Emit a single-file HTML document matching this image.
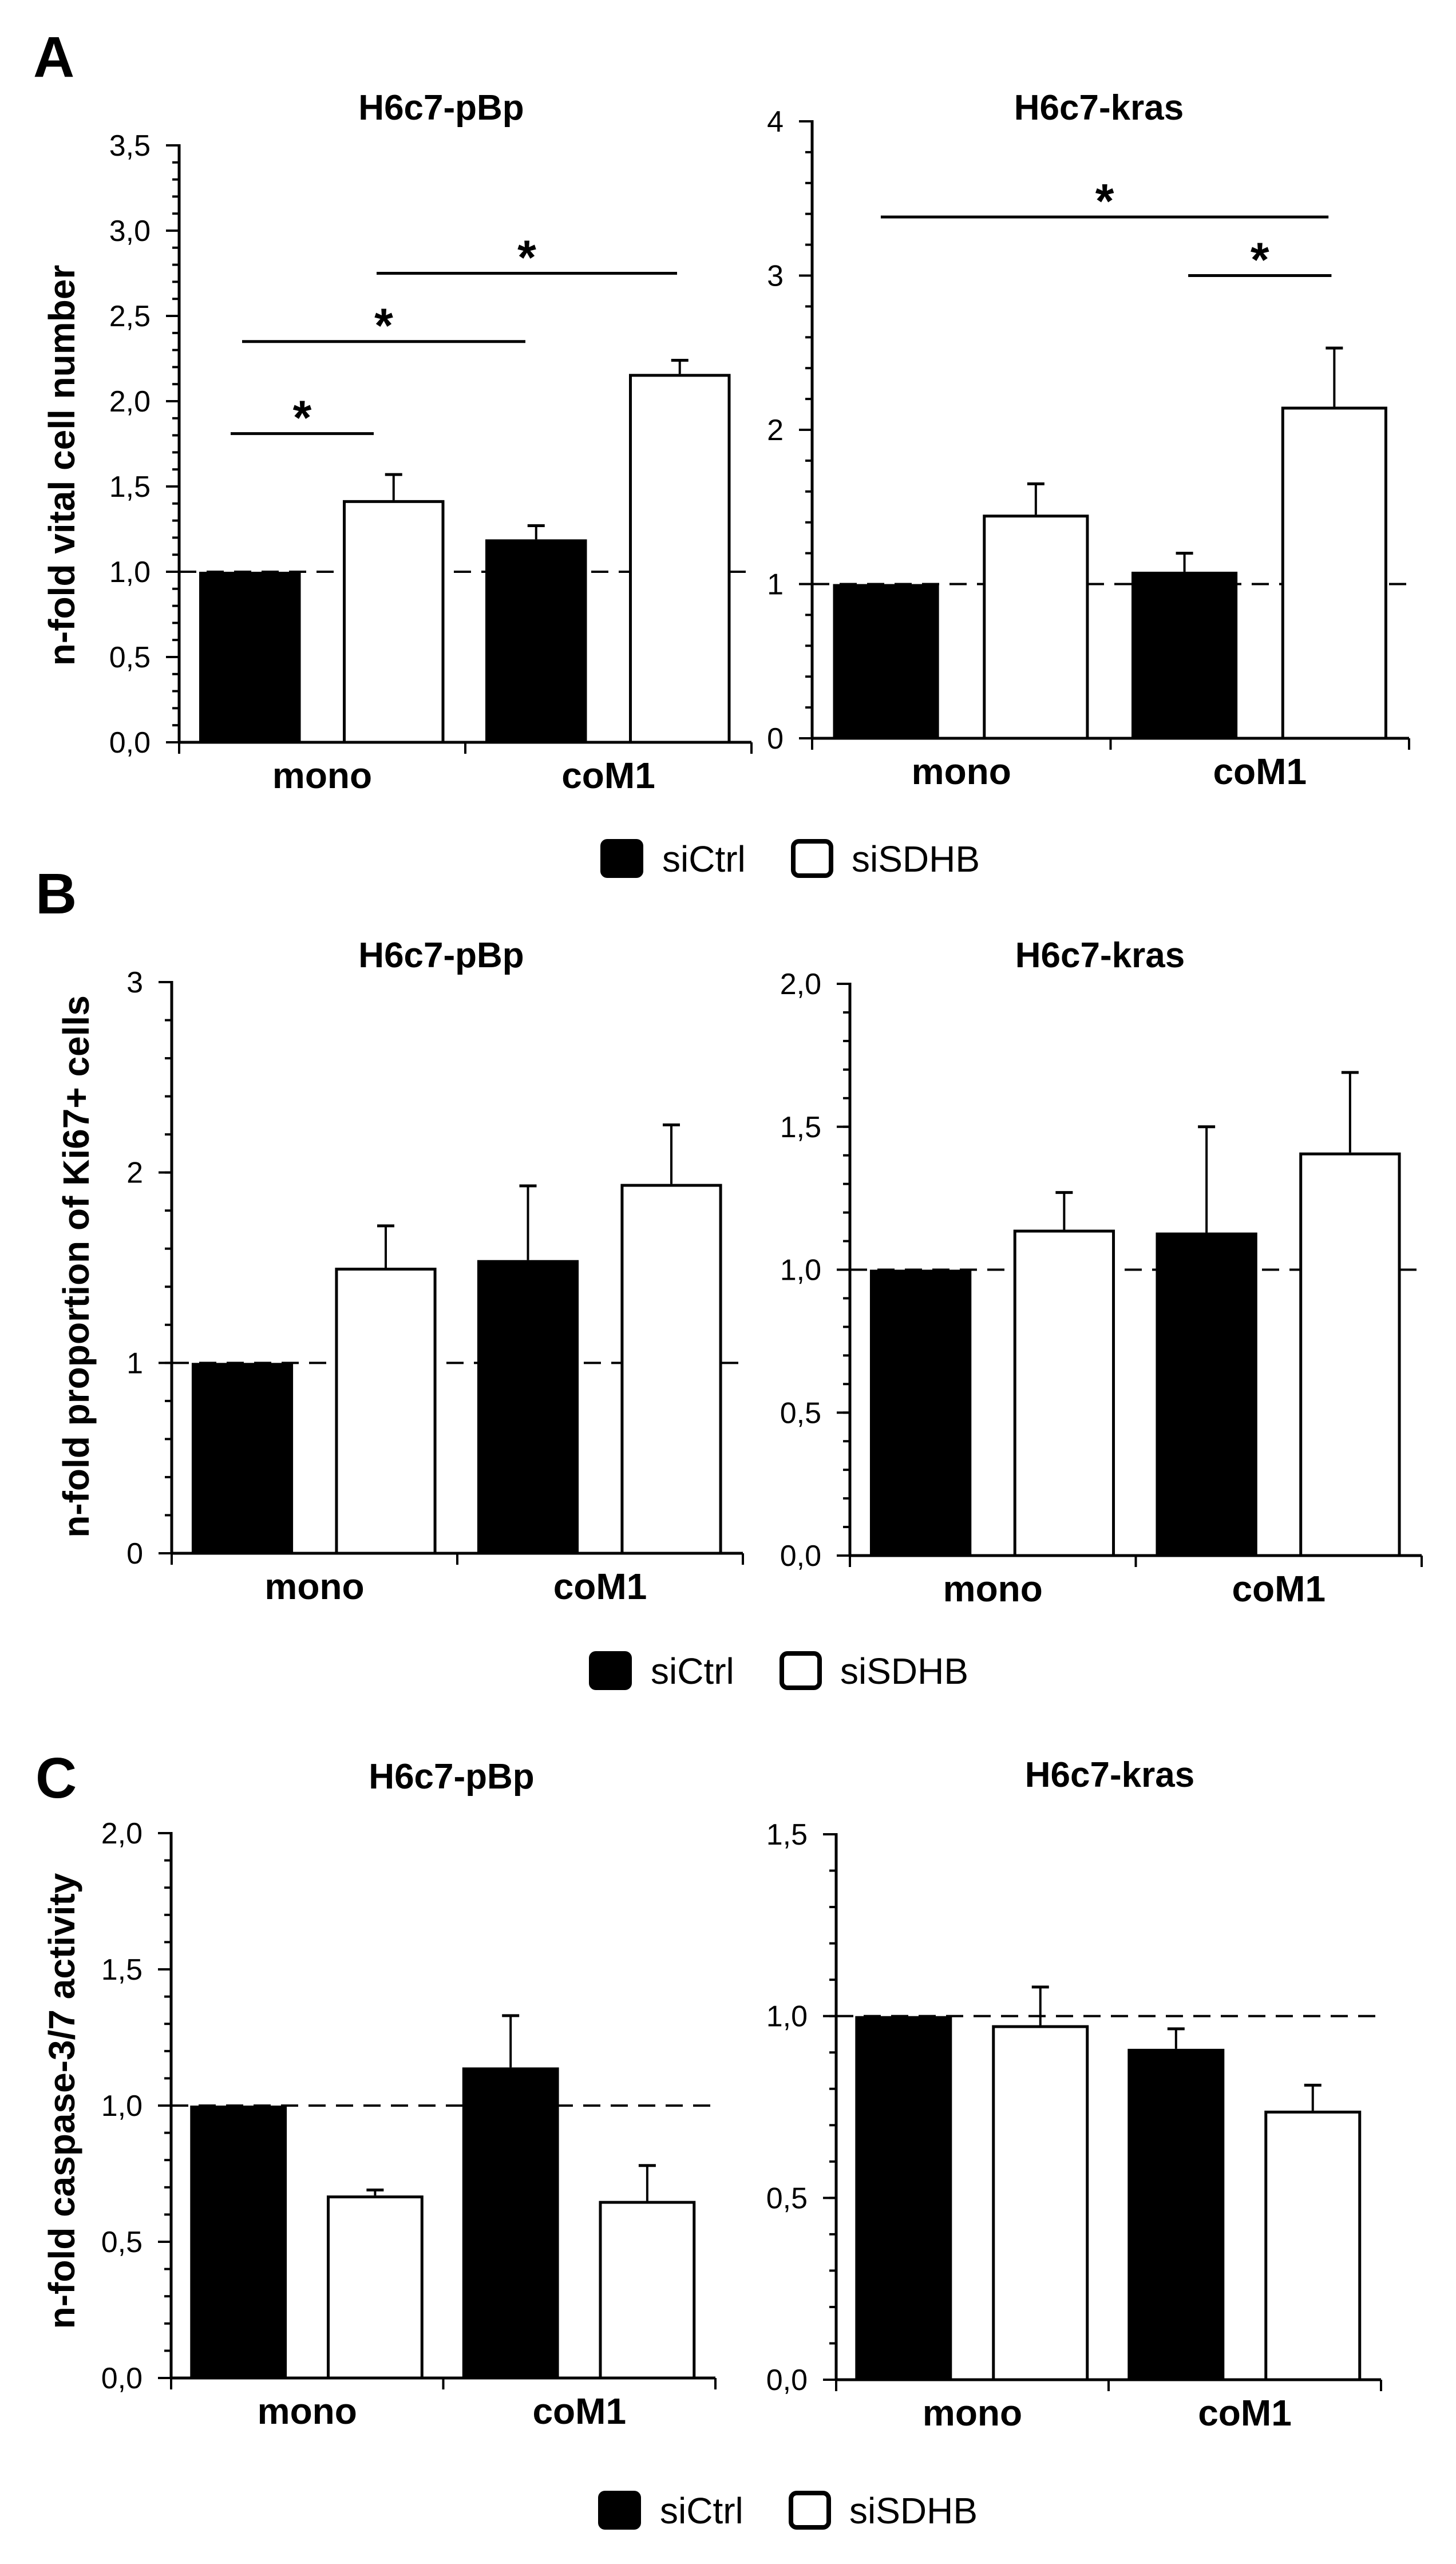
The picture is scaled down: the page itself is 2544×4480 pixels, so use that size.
<!DOCTYPE html>
<html>
<head>
<meta charset="utf-8">
<style>
html,body{margin:0;padding:0;background:#fff;}
svg{display:block;}
text{font-family:"Liberation Sans",Arial,sans-serif;fill:#000;}
</style>
</head>
<body>
<svg id="fig" xmlns="http://www.w3.org/2000/svg" width="2544" height="4480" viewBox="0 0 2544 4480">
<rect x="0" y="0" width="2544" height="4480" fill="#fff"/>
<text x="58" y="134" font-size="100" font-weight="bold">A</text>
<text x="62" y="1596" font-size="100" font-weight="bold">B</text>
<text x="62" y="3141" font-size="100" font-weight="bold">C</text>
</svg>
<script>
// ---- data ----
const categories = ['mono', 'coM1'];
const seriesNames = ['siCtrl', 'siSDHB'];

const aLeftCtrl = [1.0, 1.19];
const aLeftCtrlErr = [null, 1.27];
const aLeftSdhb = [1.42, 2.16];
const aLeftSdhbErr = [1.57, 2.24];
const aLeftTicks = ['0,0','0,5','1,0','1,5','2,0','2,5','3,0','3,5'];
const aLeftSigFrom = [0.18, 0.22, 0.69];   // in category units (0..2)
const aLeftSigTo = [0.68, 1.21, 1.74];
const aLeftSigY = [1.81, 2.35, 2.75];

const aRightCtrl = [1.0, 1.08];
const aRightCtrlErr = [null, 1.2];
const aRightSdhb = [1.45, 2.15];
const aRightSdhbErr = [1.65, 2.53];
const aRightTicks = ['0','1','2','3','4'];
const aRightSigFrom = [0.23, 1.26];
const aRightSigTo = [1.73, 1.74];
const aRightSigY = [3.38, 3.0];

const bLeftCtrl = [1.0, 1.54];
const bLeftCtrlErr = [null, 1.93];
const bLeftSdhb = [1.5, 1.94];
const bLeftSdhbErr = [1.72, 2.25];
const bLeftTicks = ['0','1','2','3'];

const bRightCtrl = [1.0, 1.13];
const bRightCtrlErr = [null, 1.5];
const bRightSdhb = [1.14, 1.41];
const bRightSdhbErr = [1.27, 1.69];
const bRightTicks = ['0,0','0,5','1,0','1,5','2,0'];

const cLeftCtrl = [1.0, 1.14];
const cLeftCtrlErr = [null, 1.33];
const cLeftSdhb = [0.67, 0.65];
const cLeftSdhbErr = [0.69, 0.78];
const cLeftTicks = ['0,0','0,5','1,0','1,5','2,0'];

const cRightCtrl = [1.0, 0.91];
const cRightCtrlErr = [null, 0.965];
const cRightSdhb = [0.975, 0.74];
const cRightSdhbErr = [1.08, 0.81];
const cRightTicks = ['0,0','0,5','1,0','1,5'];

// ---- drawing ----
const NS = 'http://www.w3.org/2000/svg';
const svg = document.getElementById('fig');
function mk(tag, attrs, parent) {
  const e = document.createElementNS(NS, tag);
  for (const k in attrs) e.setAttribute(k, attrs[k]);
  (parent || svg).appendChild(e);
  return e;
}

function drawChart(id, g, ctrl, ctrlErr, sdhb, sdhbErr, ticks, sig) {
  const grp = mk('g', {});
  
  
  const ymax = g.major * (ticks.length - 1);
  const y = v => g.y0 - v / ymax * (g.y0 - g.yTop);
  const gw = (g.xEnd - g.ax) / categories.length;
  const xc = c => g.ax + c * gw; // category-unit to px

  // title
  const t = mk('text', {x: g.tx, y: g.ty, 'font-size': 62, 'font-weight': 'bold', 'text-anchor': 'middle'}, grp);
  t.textContent = g.title;
  
  

  // minor ticks
  const nMinor = Math.round(ymax / g.minor);
  for (let i = 0; i <= nMinor; i++) {
    const yy = y(i * g.minor);
    const mt = mk('line', {x1: g.ax - 12, x2: g.ax, y1: yy, y2: yy, stroke: '#000', 'stroke-width': 4}, grp);
    
    
  }
  // major ticks + labels
  ticks.forEach((lab, i) => {
    const yy = y(i * g.major);
    const tk = mk('line', {x1: g.ax - 23, x2: g.ax, y1: yy, y2: yy, stroke: '#000', 'stroke-width': 4}, grp);
    
    
    const tl = mk('text', {x: g.ax - 50, y: yy + 18, 'font-size': 52, 'text-anchor': 'end'}, grp);
    tl.textContent = lab;
    
    
  });

  // reference dashed line at 1
  const ref = mk('line', {x1: g.ax, x2: g.xEnd, y1: y(1), y2: y(1), stroke: '#000', 'stroke-width': 4, 'stroke-dasharray': '30 18'}, grp);
  
  

  // bars
  const bw = 0.355 * gw;
  function bar(val, err, ci, series) {
    const bx = xc(ci) + (series === 0 ? 0.07 : 0.572) * gw;
    const top = y(val);
    if (err !== null && err !== undefined) {
      const cx = bx + bw / 2;
      const eb = mk('line', {x1: cx, x2: cx, y1: top, y2: y(err), stroke: '#000', 'stroke-width': 4}, grp);
      
      
      const ec = mk('line', {x1: cx - 15, x2: cx + 15, y1: y(err), y2: y(err), stroke: '#000', 'stroke-width': 5}, grp);
      
      
    }
    let r;
    if (series === 0) {
      r = mk('rect', {x: bx, y: top, width: bw, height: g.y0 - top, fill: '#000'}, grp);
    } else {
      r = mk('rect', {x: bx + 2.5, y: top + 2.5, width: bw - 5, height: g.y0 - top - 2.5, fill: '#fff', stroke: '#000', 'stroke-width': 5}, grp);
    }
    
    
  }
  categories.forEach((c, ci) => {
    bar(ctrl[ci], ctrlErr[ci], ci, 0);
    bar(sdhb[ci], sdhbErr[ci], ci, 1);
  });

  // axes
  const ya = mk('line', {x1: g.ax, x2: g.ax, y1: g.yTop - 2, y2: g.y0 + 2, stroke: '#000', 'stroke-width': 5}, grp);
  
  
  const xa = mk('line', {x1: g.ax - 2, x2: g.xEnd, y1: g.y0, y2: g.y0, stroke: '#000', 'stroke-width': 5}, grp);
  
  
  for (let i = 0; i <= categories.length; i++) {
    const xt = mk('line', {x1: xc(i), x2: xc(i), y1: g.y0, y2: g.y0 + 20, stroke: '#000', 'stroke-width': 4}, grp);
    
    
  }
  categories.forEach((c, ci) => {
    const xl = mk('text', {x: xc(ci + 0.5), y: g.y0 + 80, 'font-size': 64, 'font-weight': 'bold', 'text-anchor': 'middle'}, grp);
    xl.textContent = c;
    
    
  });

  // y title
  if (g.ytitle) {
    const yt = mk('text', {x: 0, y: 0, 'font-size': 64, 'font-weight': 'bold', 'text-anchor': 'middle', 'dominant-baseline': 'central',
      transform: 'translate(' + g.ytx + ',' + g.yty + ') rotate(-90)'}, grp);
    yt.textContent = g.ytitle;
    
    
  }

  // significance
  if (sig) {
    sig.from.forEach((f, i) => {
      const yy = y(sig.y[i]);
      const sl = mk('line', {x1: xc(f), x2: xc(sig.to[i]), y1: yy, y2: yy, stroke: '#000', 'stroke-width': 5}, grp);
      
      
      const st = mk('text', {x: (xc(f) + xc(sig.to[i])) / 2, y: yy - 45 + 46, 'font-size': 84, 'font-weight': 'bold', 'text-anchor': 'middle'}, grp);
      st.textContent = '*';
      
      
    });
  }
}

function drawLegend(id, cy, shift) {
  const grp = mk('g', {});
  
  
  const b1 = mk('rect', {x: 1049 + shift, y: cy - 34, width: 75, height: 68, rx: 12, fill: '#000'}, grp);
  
  
  const t1 = mk('text', {x: 1157 + shift, y: cy + 23, 'font-size': 64}, grp);
  t1.textContent = seriesNames[0];
  
  
  const b2 = mk('rect', {x: 1386 + shift, y: cy - 30, width: 66, height: 60, rx: 10, fill: '#fff', stroke: '#000', 'stroke-width': 8}, grp);
  
  
  const t2 = mk('text', {x: 1488 + shift, y: cy + 23, 'font-size': 64}, grp);
  t2.textContent = seriesNames[1];
  
  
}

drawChart('a-left', {ax: 313, xEnd: 1313, y0: 1297, yTop: 254, major: 0.5, minor: 0.1, title: 'H6c7-pBp', tx: 771, ty: 209,
  ytitle: 'n-fold vital cell number', ytx: 108, yty: 813},
  aLeftCtrl, aLeftCtrlErr, aLeftSdhb, aLeftSdhbErr, aLeftTicks, {from: aLeftSigFrom, to: aLeftSigTo, y: aLeftSigY});
drawChart('a-right', {ax: 1419, xEnd: 2462, y0: 1290, yTop: 212, major: 1, minor: 0.2, title: 'H6c7-kras', tx: 1920, ty: 209},
  aRightCtrl, aRightCtrlErr, aRightSdhb, aRightSdhbErr, aRightTicks, {from: aRightSigFrom, to: aRightSigTo, y: aRightSigY});
drawChart('b-left', {ax: 300, xEnd: 1298, y0: 2714, yTop: 1716, major: 1, minor: 0.2, title: 'H6c7-pBp', tx: 771, ty: 1690,
  ytitle: 'n-fold proportion of Ki67+ cells', ytx: 133, yty: 2213},
  bLeftCtrl, bLeftCtrlErr, bLeftSdhb, bLeftSdhbErr, bLeftTicks, null);
drawChart('b-right', {ax: 1485, xEnd: 2484, y0: 2718, yTop: 1719, major: 0.5, minor: 0.1, title: 'H6c7-kras', tx: 1922, ty: 1690},
  bRightCtrl, bRightCtrlErr, bRightSdhb, bRightSdhbErr, bRightTicks, null);
drawChart('c-left', {ax: 299, xEnd: 1250, y0: 4155, yTop: 3203, major: 0.5, minor: 0.1, title: 'H6c7-pBp', tx: 789, ty: 3125,
  ytitle: 'n-fold caspase-3/7 activity', ytx: 108, yty: 3671},
  cLeftCtrl, cLeftCtrlErr, cLeftSdhb, cLeftSdhbErr, cLeftTicks, null);
drawChart('c-right', {ax: 1461, xEnd: 2413, y0: 4158, yTop: 3205, major: 0.5, minor: 0.1, title: 'H6c7-kras', tx: 1939, ty: 3122},
  cRightCtrl, cRightCtrlErr, cRightSdhb, cRightSdhbErr, cRightTicks, null);

drawLegend('legend-a', 1500, 0);
drawLegend('legend-b', 2919, -20);
drawLegend('legend-c', 4386, -4);
</script>
</body>
</html>
